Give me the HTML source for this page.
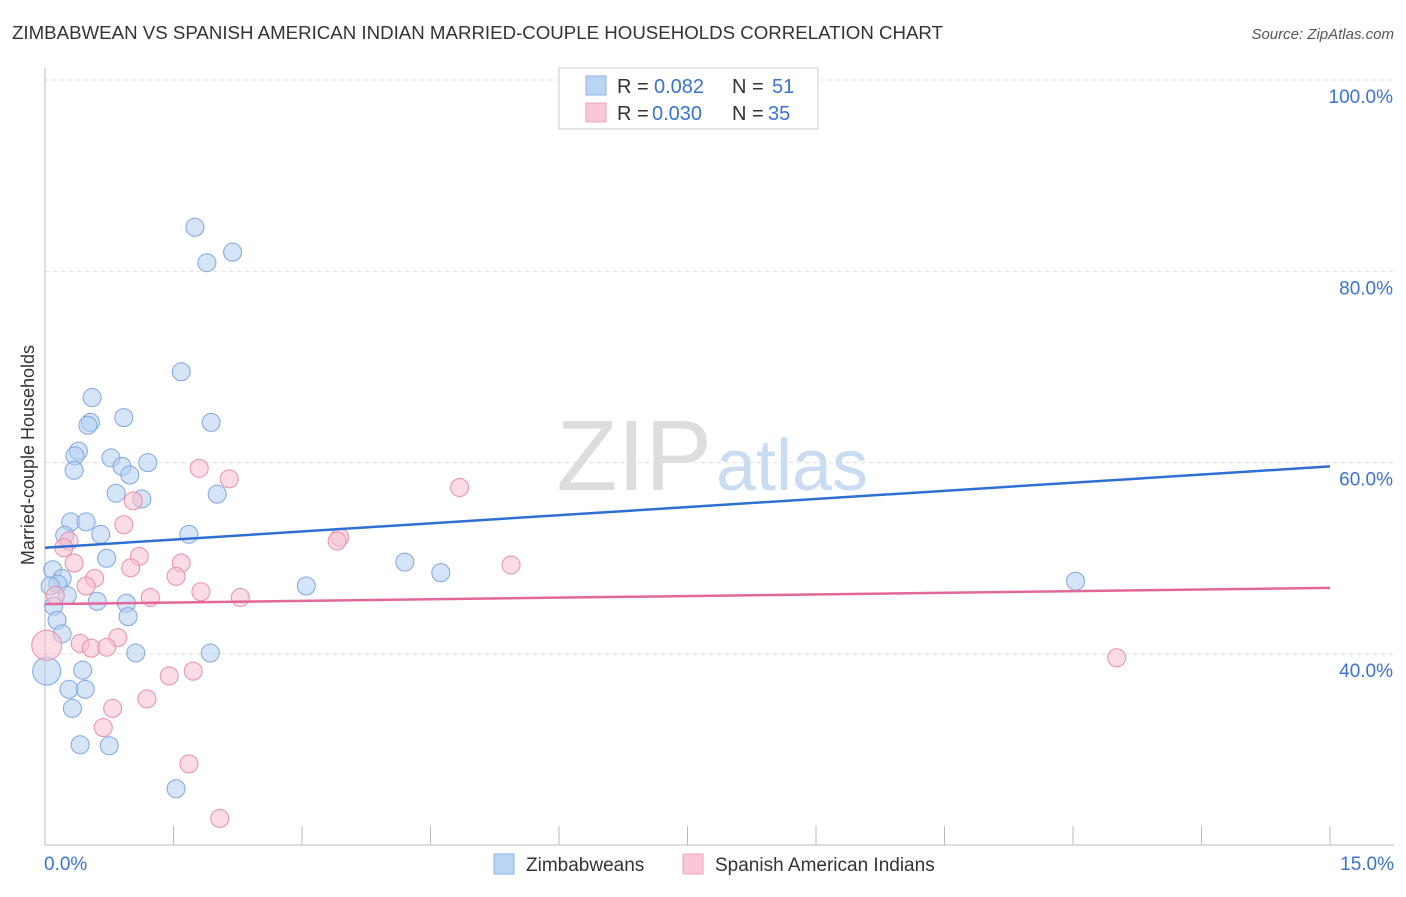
<!DOCTYPE html>
<html><head><meta charset="utf-8"><style>
body{margin:0;background:#fff;font-family:"Liberation Sans",sans-serif;}
svg text{font-family:"Liberation Sans",sans-serif;}
</style></head><body>
<svg id="chart" width="1406" height="892">
<text x="12" y="39" font-size="18" fill="#333" textLength="931" lengthAdjust="spacingAndGlyphs">ZIMBABWEAN VS SPANISH AMERICAN INDIAN MARRIED-COUPLE HOUSEHOLDS CORRELATION CHART</text>
<text x="1394" y="39" font-size="15" fill="#555" font-style="italic" text-anchor="end">Source: ZipAtlas.com</text>
<text x="712" y="490" font-size="100" fill="#ddd" text-anchor="end" font-family="Liberation Serif">ZIP</text>
<text x="716" y="490" font-size="72" fill="#c9dcf2">atlas</text>
<g id="grid"></g><g id="axes"></g><g id="pts"></g><g id="trend"></g>
<text transform="translate(34,455) rotate(-90)" font-size="18" fill="#333" text-anchor="middle">Married-couple Households</text>
<g>
<rect x="559" y="68" width="259" height="61" fill="#fff" stroke="#ccc"/>
<rect x="586" y="76" width="20" height="19" fill="#bcd4f4" stroke="#8fb3e6"/>
<rect x="586" y="103" width="20" height="19" fill="#f9c7d6" stroke="#eea3bb"/>
<text y="93" font-size="20" fill="#333"><tspan x="617">R =</tspan><tspan x="654" fill="#3a73d1">0.082</tspan><tspan x="732">N =</tspan><tspan x="772" fill="#3a73d1">51</tspan></text>
<text y="120" font-size="20" fill="#333"><tspan x="617">R =</tspan><tspan x="652" fill="#3a73d1">0.030</tspan><tspan x="732">N =</tspan><tspan x="768" fill="#3a73d1">35</tspan></text>
</g>
<g>
<rect x="494" y="854" width="20" height="20" fill="#bcd4f4" stroke="#8fb3e6"/>
<text x="526" y="871" font-size="19" fill="#333">Zimbabweans</text>
<rect x="683" y="854" width="20" height="20" fill="#f9c7d6" stroke="#eea3bb"/>
<text x="715" y="871" font-size="19" fill="#333">Spanish American Indians</text>
</g>
</svg>
<script>
const blueX=[1.75,1.89,2.19,1.59,0.55,0.92,0.53,1.94,0.5,0.39,0.35,0.77,1.2,0.9,0.34,0.99,0.83,1.13,2.01,0.3,0.48,0.23,0.65,1.68,0.72,4.2,4.62,0.09,3.05,12.03,0.2,0.15,0.06,0.26,0.61,0.95,0.1,0.97,0.14,0.2,1.06,1.93,0.44,0.02,0.28,0.47,0.32,0.41,0.75,1.53];
const blueY=[84.6,80.9,82.0,69.5,66.8,64.7,64.2,64.2,63.9,61.2,60.7,60.5,60.0,59.6,59.2,58.7,56.8,56.2,56.7,53.8,53.8,52.4,52.5,52.5,50.0,49.6,48.5,48.8,47.1,47.6,47.9,47.3,47.1,46.1,45.5,45.3,45.0,43.9,43.5,42.1,40.1,40.1,38.3,38.2,36.3,36.3,34.3,30.5,30.4,25.9];
const pinkX=[1.8,2.15,4.84,1.03,0.92,3.44,3.41,0.28,0.22,1.1,1.59,0.34,5.44,1.0,1.53,0.58,0.48,1.82,1.23,2.28,0.12,0.02,0.41,0.85,0.54,0.72,12.51,1.73,1.45,1.19,0.79,0.68,1.68,2.04];
const pinkY=[59.4,58.3,57.4,56.0,53.5,52.2,51.8,51.8,51.1,50.2,49.5,49.5,49.3,49.0,48.1,47.9,47.1,46.5,45.9,45.9,46.1,40.9,41.1,41.7,40.6,40.7,39.6,38.2,37.7,35.3,34.3,32.3,28.5,22.8];
const blueTrend=[51.1,59.6];
const pinkTrend=[45.2,46.9];
const yTicks=[100,80,60,40];
const xTicks=[0,1.5,3,4.5,6,7.5,9,10.5,12,13.5,15];
const NS="http://www.w3.org/2000/svg";
const sx=v=>45+v*(1285/15);
const sy=v=>80+(100-v)*(191.3/20);
function mk(p,t,a){const e=document.createElementNS(NS,t);for(const k in a)e.setAttribute(k,a[k]);document.getElementById(p).appendChild(e);return e;}
yTicks.forEach(t=>{
 const l=mk('grid','line',{x1:45,x2:1394,y1:sy(t),y2:sy(t),stroke:'#ddd','stroke-dasharray':'4,4'});
 
 
 const tx=mk('grid','text',{x:1393,y:sy(t)+23,'font-size':19,fill:'#3a73d1','text-anchor':'end'});
 tx.textContent=t.toFixed(1)+'%';
 
 
});
let ax=mk('axes','line',{x1:45,x2:1394,y1:845,y2:845,stroke:'#bbb'});


ax=mk('axes','line',{x1:45,x2:45,y1:68,y2:845,stroke:'#bbb'});


xTicks.forEach(t=>{
 const l=mk('axes','line',{x1:sx(t),x2:sx(t),y1:826,y2:845,stroke:'#bbb'});
 
 
});
[[0,'start'],[15,'end']].forEach(([t,a])=>{
 const tx=mk('axes','text',{x:t==0?44:1394,y:870,'font-size':19,fill:'#3a73d1','text-anchor':a});
 tx.textContent=t.toFixed(1)+'%';
 
 
});
function pts(X,Y,fill,stroke,name){X.forEach((x,i)=>{
 const r=(x<0.05)?(name=='blue-point'?14:15):9;
 const c=mk('pts','circle',{cx:sx(x),cy:sy(Y[i]),r:r,fill:fill,'fill-opacity':0.55,stroke:stroke,'stroke-width':1});
 
 
});}
pts(blueX,blueY,'#b4cdf2','#7fa6df','blue-point');
pts(pinkX,pinkY,'#f7bfd0','#e78fac','pink-point');
let t=mk('trend','line',{x1:sx(0),x2:sx(15),y1:sy(blueTrend[0]),y2:sy(blueTrend[1]),stroke:'#2f6fd4','stroke-width':2.5});


t=mk('trend','line',{x1:sx(0),x2:sx(15),y1:sy(pinkTrend[0]),y2:sy(pinkTrend[1]),stroke:'#e3689a','stroke-width':2.5});


</script>
</body></html>
